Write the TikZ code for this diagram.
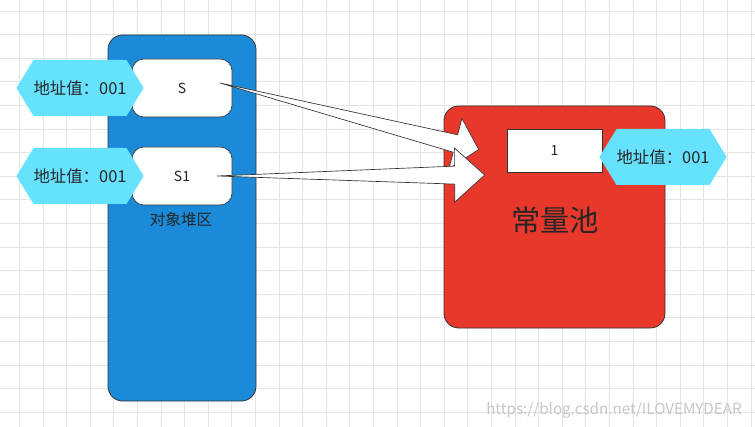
\documentclass[tikz,border=0pt]{standalone}
\usepackage{fontspec}
\setmainfont{Noto Sans CJK SC}
\usetikzlibrary{calc,shapes.symbols}

\definecolor{heapblue}{HTML}{1A8AD9}
\definecolor{poolred}{HTML}{E8382B}
\definecolor{addrcyan}{HTML}{66E2FF}
\definecolor{gridgray}{HTML}{E4E4E4}
\definecolor{edgegray}{HTML}{333333}

\tikzset{
  container/.style={draw=edgegray, line width=0.6pt, rounded corners=11pt, inner sep=0pt},
  varbox/.style={draw=edgegray, fill=white, line width=0.5pt, rounded corners=9pt,
    minimum width=75pt, minimum height=43.5pt, font=\fontsize{10.5}{12}\selectfont},
  addr/.style={signal, signal to=west and east, signal pointer angle=117, fill=addrcyan,
    minimum width=94.5pt, minimum height=42pt, inner sep=0pt, font=\fontsize{12.3}{14}\selectfont},
  fatline/.style={fill=white, draw=edgegray, line width=0.5pt, line join=miter},
}

% #1 from, #2 tip, #3 head length, #4 shaft half width, #5 head half width
\newcommand\fatarrow[5]{%
  \path ($(#2)!#3!(#1)$) coordinate (fa-b);
  \filldraw[fatline] (#1) -- ($(fa-b)!#4!90:(#2)$) -- ($(fa-b)!#5!90:(#2)$) -- (#2)
    -- ($(fa-b)!#5!-90:(#2)$) -- ($(fa-b)!#4!-90:(#2)$) -- cycle;
}

\begin{document}
\begin{tikzpicture}[x=0.75pt, y=-0.75pt, text=black!85]
  \useasboundingbox (0,0) rectangle (755,427);
  \fill[white] (0,0) rectangle (755,427);
  % grid
  \foreach \k in {0,...,31}
    \draw[gridgray, line width=0.6pt] ({19.3+23.6*\k},0) -- ({19.3+23.6*\k},427);
  \foreach \k in {0,...,17}
    \draw[gridgray, line width=0.6pt] (0,{11+23.6*\k}) -- (755,{11+23.6*\k});

  % heap
  \node[container, fill=heapblue, minimum width=111pt, minimum height=274.5pt] (heap) at (182,218) {};
  \node[font=\fontsize{11.7}{14}\selectfont] (heaplabel) at (181,220) {对象堆区};
  \node[varbox] (s) at (182,88) {S};
  \node[varbox] (s1) at (182,176) {S1};
  \node[addr] (addr-s) at (80,88) {地址值：001};
  \node[addr] (addr-s1) at (80,176) {地址值：001};

  % constant pool
  \node[container, fill=poolred, minimum width=165.75pt, minimum height=166.5pt] (pool) at (554.5,217) {};
  \node[font=\fontsize{22}{24}\selectfont] (poollabel) at (555,220) {常量池};
  \node[draw=edgegray, fill=white, line width=0.5pt, minimum width=71.25pt, minimum height=32.25pt,
    font=\fontsize{10.5}{12}\selectfont] (one) at (554.5,150.5) {1};
  \node[addr] (addr-one) at (663,157) {地址值：001};

  % references
  \coordinate (s-out) at ($(s.center)+(38,-5)$);
  \coordinate (s1-out) at ($(s1.center)+(35,0)$);
  \coordinate (tip-a) at ($(one.west)+(-28,-1)$);
  \coordinate (tip-c) at ($(one.west)+(-22,24.5)$);
  \fatarrow{s-out}{tip-a}{18pt}{6.75pt}{19.5pt}
  \fatarrow{s1-out}{tip-c}{22.5pt}{6.75pt}{20.25pt}

  \node[text=black!22, font=\fontsize{11.4}{13}\selectfont] (mark) at (614,410) {https://blog.csdn.net/ILOVEMYDEAR};
\end{tikzpicture}
\end{document}
